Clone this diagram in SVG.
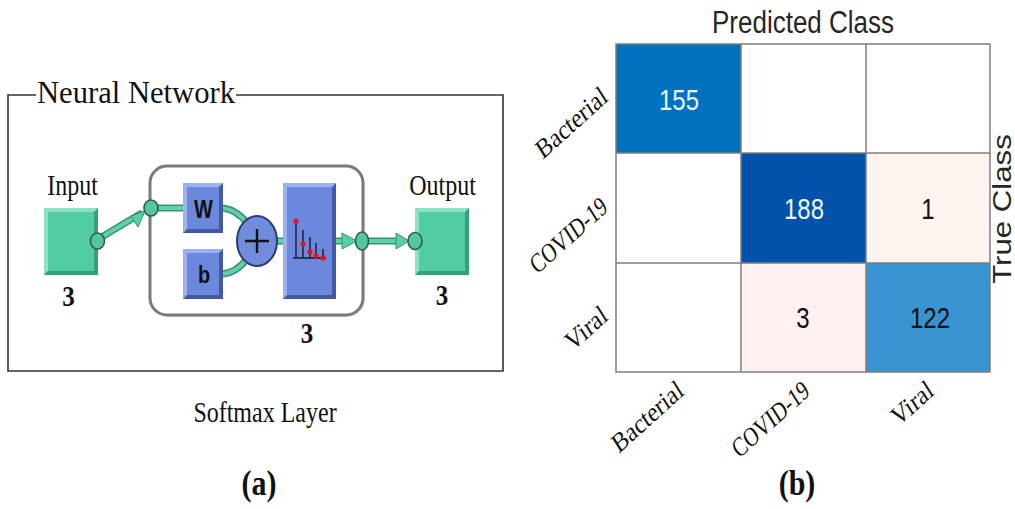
<svg xmlns="http://www.w3.org/2000/svg" width="1015" height="509" viewBox="0 0 1015 509">
<style>
.serif{font-family:"Liberation Serif","Times New Roman",serif;fill:#111}
.sans{font-family:"Liberation Sans",Arial,sans-serif;fill:#262626}
.bold{font-weight:bold}
.grid{fill:none;stroke:#7f7f7f;stroke-width:1.5}
.wire{fill:none;stroke:#3c8f72;stroke-width:7;stroke-linecap:round}
.wirein{fill:none;stroke:#5fd1a8;stroke-width:4;stroke-linecap:round}
.port{fill:#55c79e;stroke:#2d5e4c;stroke-width:1.6}
.arrow{fill:#55cfa3;stroke:#3c8f72;stroke-width:1}
.gfill{fill:#52cda2}
.glight{fill:#8fe1c3}
.gdark{fill:#37a07b}
.bfill{fill:#6b88dc}
.blight{fill:#9cb1f0}
.bdark{fill:#4459a3}
</style>
<rect width="1015" height="509" fill="#ffffff"/>

<!-- Panel (a) frame -->
<g id="frame">
<path d="M36,95 H8 V371 H503 V95 H236" fill="none" stroke="#333" stroke-width="1.6"/>
<text class="serif" transform="translate(37,103) scale(1,1.2)" font-size="27" textLength="198" lengthAdjust="spacingAndGlyphs">Neural Network</text>
</g>

<!-- Layer container -->
<g id="layer">
<rect x="152" y="168" width="213" height="149" rx="17" ry="17" fill="#e6e6e6"/>
<rect x="150" y="166" width="213" height="149" rx="17" ry="17" fill="#fff" stroke="#7a7a7a" stroke-width="3"/>
<text class="serif bold" transform="translate(307,343) scale(1,1.2)" font-size="25" text-anchor="middle">3</text>
</g>

<!-- connectors -->
<g id="connectors">
<path class="wire" d="M100,238 L140,214"/>
<path class="wirein" d="M100,238 L140,214"/>
<path class="wire" d="M151,208 H186"/>
<path class="wirein" d="M151,208 H186"/>
<path class="wire" d="M222,208 Q236,209 247,223"/>
<path class="wirein" d="M222,208 Q236,209 247,223"/>
<path class="wire" d="M222,274 Q236,273 247,259"/>
<path class="wirein" d="M222,274 Q236,273 247,259"/>
<path class="wire" d="M276,241 H285"/>
<path class="wirein" d="M276,241 H285"/>
<path class="wire" d="M335,241 H344"/>
<path class="wirein" d="M335,241 H344"/>
<path class="wire" d="M368,241 H398"/>
<path class="wirein" d="M368,241 H398"/>
<polygon class="arrow" points="145,211 131,216 138,227"/>
<polygon class="arrow" points="357,241 342,233 342,249"/>
<polygon class="arrow" points="409,241 396,233 396,249"/>
<ellipse class="port" cx="151" cy="208" rx="7" ry="8"/>
<ellipse class="port" cx="362" cy="241" rx="6.5" ry="9"/>
</g>

<!-- Input node -->
<g id="input">
<text class="serif" transform="translate(72.5,195) scale(1,1.2)" font-size="24" text-anchor="middle">Input</text>
<rect class="gfill" x="44" y="208" width="54" height="67"/>
<polygon class="glight" points="44,208 98,208 94,212 48,212 48,271 44,275"/>
<polygon class="gdark" points="98,208 98,275 44,275 48,271 94,271 94,212"/>
<rect x="48" y="212" width="46" height="59" class="gfill"/>
<ellipse class="port" cx="97.5" cy="241" rx="7" ry="8"/>
<text class="serif bold" transform="translate(68.5,306) scale(1,1.2)" font-size="25" text-anchor="middle">3</text>
</g>

<g id="weight">
<rect class="bdark" x="183" y="183" width="40" height="50"/>
<polygon class="blight" points="183,183 223,183 219,187 187,187 187,229 183,233"/>
<rect class="bfill" x="187" y="187" width="32" height="42"/>
<text class="sans bold" transform="translate(203.5,218) scale(1,1.25)" font-size="20" text-anchor="middle" style="fill:#111">W</text>
</g>

<g id="bias">
<rect class="bdark" x="183" y="249" width="40" height="50"/>
<polygon class="blight" points="183,249 223,249 219,253 187,253 187,295 183,299"/>
<rect class="bfill" x="187" y="253" width="32" height="42"/>
<text class="sans bold" transform="translate(204,283) scale(1,1.2)" font-size="20" text-anchor="middle" style="fill:#111">b</text>
</g>

<g id="sum">
<ellipse cx="257" cy="241" rx="20" ry="25" fill="#6f8ddc" stroke="#2e3b6c" stroke-width="2"/>
<path d="M245,241 H269 M257,229 V253" stroke="#111" stroke-width="2.4"/>
</g>

<g id="transfer">
<rect class="bdark" x="283" y="183" width="53" height="116"/>
<polygon class="blight" points="283,183 336,183 332,187 287,187 287,295 283,299"/>
<rect class="bfill" x="287" y="187" width="45" height="108"/>
<path d="M293,258 H326 M296,258 V221 M303,258 V230 M310,258 V237 M316,258 V243 M323,258 V249" stroke="#1a1a2a" stroke-width="1.4" fill="none"/>
<g fill="#e8101a">
<circle cx="296" cy="221" r="2.6"/>
<circle cx="303" cy="244" r="2.6"/>
<circle cx="310" cy="252" r="2.6"/>
<circle cx="316" cy="256" r="2.6"/>
<circle cx="323" cy="258" r="2.6"/>
</g>
</g>

<!-- Output node -->
<g id="output">
<text class="serif" transform="translate(442.5,195) scale(1,1.2)" font-size="24" text-anchor="middle">Output</text>
<rect class="gfill" x="415" y="208" width="54" height="67"/>
<polygon class="glight" points="415,208 469,208 465,212 419,212 419,271 415,275"/>
<polygon class="gdark" points="469,208 469,275 415,275 419,271 465,271 465,212"/>
<rect x="419" y="212" width="46" height="59" class="gfill"/>
<ellipse class="port" cx="415" cy="241" rx="7" ry="8.5"/>
<text class="serif bold" transform="translate(442,305) scale(1,1.2)" font-size="25" text-anchor="middle">3</text>
</g>

<g id="captions-a">
<text class="serif" transform="translate(265,422) scale(1,1.2)" font-size="24" text-anchor="middle">Softmax Layer</text>
<text class="serif bold" transform="translate(259,495) scale(1,1.2)" font-size="30" text-anchor="middle">(a)</text>
</g>

<!-- Panel (b) confusion matrix -->
<g id="matrix">
<rect x="616" y="44" width="125" height="109" fill="#0072bd"/>
<rect x="741" y="44" width="125" height="109" fill="#ffffff"/>
<rect x="866" y="44" width="124" height="109" fill="#ffffff"/>
<rect x="616" y="153" width="125" height="110" fill="#ffffff"/>
<rect x="741" y="153" width="125" height="110" fill="#0052ab"/>
<rect x="866" y="153" width="124" height="110" fill="#fdf3ef"/>
<rect x="616" y="263" width="125" height="109" fill="#ffffff"/>
<rect x="741" y="263" width="125" height="109" fill="#fef1f0"/>
<rect x="866" y="263" width="124" height="109" fill="#3893d0"/>
<path class="grid" d="M616,44 H990 V372 H616 Z M741,44 V372 M866,44 V372 M616,153 H990 M616,263 H990"/>
<g font-size="24">
<text class="sans" transform="translate(679,110) scale(1,1.2)" text-anchor="middle" style="fill:#eef4fb">155</text>
<text class="sans" transform="translate(804,219) scale(1,1.2)" text-anchor="middle" style="fill:#eef4fb">188</text>
<text class="sans" transform="translate(928,219) scale(1,1.2)" text-anchor="middle" style="fill:#111">1</text>
<text class="sans" transform="translate(803,328) scale(1,1.2)" text-anchor="middle" style="fill:#111">3</text>
<text class="sans" transform="translate(930,328) scale(1,1.2)" text-anchor="middle" style="fill:#111">122</text>
</g>
<text class="sans" transform="translate(803,33) scale(1,1.2)" font-size="26" text-anchor="middle">Predicted Class</text>
<text class="sans" transform="translate(1011,209) scale(1,1.2) rotate(-90)" font-size="26" text-anchor="middle">True Class</text>
<g font-size="23">
<text class="serif" transform="translate(609,100) scale(1,1.2) rotate(-37)" text-anchor="end">Bacterial</text>
<text class="serif" transform="translate(609,210) scale(1,1.2) rotate(-37)" text-anchor="end" textLength="90" lengthAdjust="spacingAndGlyphs">COVID-19</text>
<text class="serif" transform="translate(609,319) scale(1,1.2) rotate(-37)" text-anchor="end">Viral</text>
<text class="serif" transform="translate(685,394) scale(1,1.2) rotate(-37)" text-anchor="end">Bacterial</text>
<text class="serif" transform="translate(811,394) scale(1,1.2) rotate(-37)" text-anchor="end" textLength="90" lengthAdjust="spacingAndGlyphs">COVID-19</text>
<text class="serif" transform="translate(935,394) scale(1,1.2) rotate(-37)" text-anchor="end">Viral</text>
</g>
<text class="serif bold" transform="translate(797,495) scale(1,1.2)" font-size="30" text-anchor="middle">(b)</text>
</g>
</svg>
